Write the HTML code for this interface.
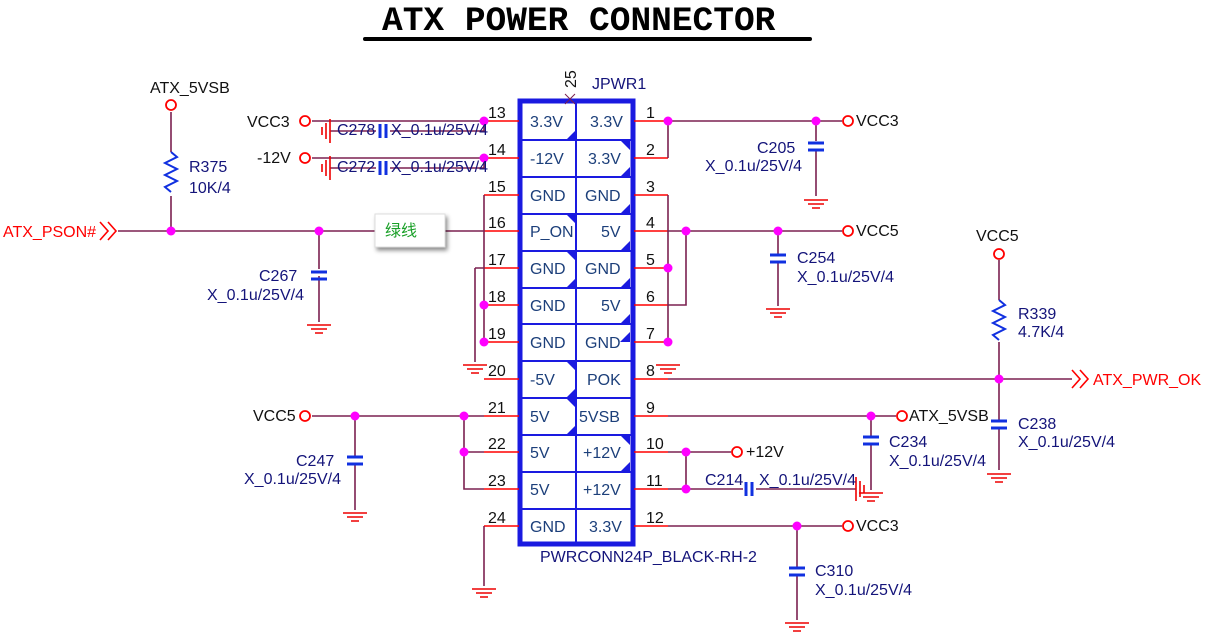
<!DOCTYPE html>
<html><head><meta charset="utf-8"><style>
html,body{margin:0;padding:0;background:#fff;}
svg{display:block;font-family:"Liberation Sans","Noto Sans CJK SC",sans-serif;}
.w{stroke:#7b2150;stroke-width:1.6;fill:none}
.r{stroke:#f00;stroke-width:1.6;fill:none}
.g{stroke:#e00;stroke-width:1.6;fill:none}
.d{fill:#f0f}
.o{fill:#fff;stroke:#f00;stroke-width:1.8}
.c{stroke:#1030e0;stroke-width:3;fill:none}
.n{fill:#14147a;font-size:16px}
.k{fill:#111;font-size:16px}
.p{fill:#111;font-size:16px}
.b{fill:#1c3f7a;font-size:16px}
.rd{fill:#f00;font-size:16px}
</style></head><body>
<svg width="1213" height="634" viewBox="0 0 1213 634" xmlns="http://www.w3.org/2000/svg">
<text x="382" y="30" font-family="Liberation Mono,monospace" font-weight="bold" font-size="34.5" fill="#000">ATX POWER CONNECTOR</text>
<line x1="365" y1="39" x2="810" y2="39" stroke="#000" stroke-width="4" stroke-linecap="round"/>

<!-- connector -->
<rect x="520" y="101" width="113" height="443" fill="#fff" stroke="#1a1ae0" stroke-width="5"/>
<g stroke="#1a1ae0" stroke-width="2">
<line x1="576" y1="101" x2="576" y2="544"/>
<line x1="520" y1="140" x2="633" y2="140"/><line x1="520" y1="177" x2="633" y2="177"/>
<line x1="520" y1="214" x2="633" y2="214"/><line x1="520" y1="251" x2="633" y2="251"/>
<line x1="520" y1="288" x2="633" y2="288"/><line x1="520" y1="324" x2="633" y2="324"/>
<line x1="520" y1="361" x2="633" y2="361"/><line x1="520" y1="398" x2="633" y2="398"/>
<line x1="520" y1="435" x2="633" y2="435"/><line x1="520" y1="472" x2="633" y2="472"/>
<line x1="520" y1="509" x2="633" y2="509"/>
</g>
<g fill="#1a1ae0">
<polygon points="566,140 576,130 576,140"/><polygon points="566,214 576,214 576,224"/>
<polygon points="566,251 576,251 576,261"/><polygon points="566,288 576,278 576,288"/>
<polygon points="566,361 576,361 576,371"/><polygon points="566,398 576,388 576,398"/>
<polygon points="566,398 576,398 576,408"/><polygon points="566,435 576,425 576,435"/>
<polygon points="620,140 630,140 630,150"/><polygon points="620,177 630,167 630,177"/>
<polygon points="620,214 630,204 630,214"/><polygon points="620,251 630,241 630,251"/>
<polygon points="620,288 630,278 630,288"/><polygon points="620,324 630,314 630,324"/>
<polygon points="620,342 630,332 630,342"/><polygon points="620,435 630,435 630,445"/>
<polygon points="620,472 630,462 630,472"/>
</g>
<g class="b">
<text x="530" y="127">3.3V</text><text x="590" y="127">3.3V</text>
<text x="530" y="164">-12V</text><text x="588" y="164">3.3V</text>
<text x="530" y="201">GND</text><text x="585" y="201">GND</text>
<text x="530" y="237">P_ON</text><text x="601" y="237">5V</text>
<text x="530" y="274">GND</text><text x="585" y="274">GND</text>
<text x="530" y="311">GND</text><text x="601" y="311">5V</text>
<text x="530" y="348">GND</text><text x="585" y="348">GND</text>
<text x="530" y="385">-5V</text><text x="587" y="385">POK</text>
<text x="530" y="422">5V</text><text x="579" y="422">5VSB</text>
<text x="530" y="458">5V</text><text x="583" y="458">+12V</text>
<text x="530" y="495">5V</text><text x="583" y="495">+12V</text>
<text x="530" y="532">GND</text><text x="589" y="532">3.3V</text>
</g>
<text x="592" y="89" class="n">JPWR1</text>
<text class="p" transform="translate(576,88) rotate(-90)" font-size="14">25</text>
<path d="M565 94 l10 10 M575 94 l-10 10" stroke="#7b2150" stroke-width="1"/>
<text x="540" y="562" class="n">PWRCONN24P_BLACK-RH-2</text>

<!-- pin stubs -->
<g class="r">
<line x1="484" y1="121" x2="519" y2="121"/><line x1="484" y1="158" x2="519" y2="158"/>
<line x1="484" y1="195" x2="519" y2="195"/><line x1="484" y1="231" x2="519" y2="231"/>
<line x1="484" y1="268" x2="519" y2="268"/><line x1="484" y1="305" x2="519" y2="305"/>
<line x1="484" y1="342" x2="519" y2="342"/><line x1="484" y1="379" x2="519" y2="379"/>
<line x1="484" y1="416" x2="519" y2="416"/><line x1="484" y1="452" x2="519" y2="452"/>
<line x1="484" y1="489" x2="519" y2="489"/><line x1="484" y1="526" x2="519" y2="526"/>
<line x1="634" y1="121" x2="668" y2="121"/><line x1="634" y1="158" x2="668" y2="158"/>
<line x1="634" y1="195" x2="668" y2="195"/><line x1="634" y1="231" x2="668" y2="231"/>
<line x1="634" y1="268" x2="668" y2="268"/><line x1="634" y1="305" x2="668" y2="305"/>
<line x1="634" y1="342" x2="668" y2="342"/><line x1="634" y1="379" x2="668" y2="379"/>
<line x1="634" y1="416" x2="668" y2="416"/><line x1="634" y1="452" x2="668" y2="452"/>
<line x1="634" y1="489" x2="668" y2="489"/><line x1="634" y1="526" x2="668" y2="526"/>
</g>
<g class="p">
<text x="488" y="118">13</text><text x="488" y="155">14</text><text x="488" y="192">15</text>
<text x="488" y="228">16</text><text x="488" y="265">17</text><text x="488" y="302">18</text>
<text x="488" y="339">19</text><text x="488" y="376">20</text><text x="488" y="413">21</text>
<text x="488" y="449">22</text><text x="488" y="486">23</text><text x="488" y="523">24</text>
<text x="646" y="118">1</text><text x="646" y="155">2</text><text x="646" y="192">3</text>
<text x="646" y="228">4</text><text x="646" y="265">5</text><text x="646" y="302">6</text>
<text x="646" y="339">7</text><text x="646" y="376">8</text><text x="646" y="413">9</text>
<text x="646" y="449">10</text><text x="646" y="486">11</text><text x="646" y="523">12</text>
</g>

<!-- left wires -->
<g class="w">
<path d="M312 121 H484"/><path d="M312 158 H484"/>
<path d="M484 121 V131 H390 M376 131 H330"/><path d="M484 158 V168 H390 M376 168 H330"/>
<path d="M484 195 V342"/><path d="M475 268 H484 M475 268 V362"/>
<path d="M118 231 H375 M445 231 H484"/>
<path d="M171 112 V152 M171 196 V231"/>
<path d="M319 231 V269 M319 276 V322"/>
<path d="M312 416 H484"/><path d="M464 416 V489 H484 M464 452 H484"/>
<path d="M355 416 V457 M355 464 V510"/>
<path d="M484 526 H484 V586"/>
</g>
<g class="c"><path d="M380 124 V138 M386 124 V138"/><path d="M380 161 V175 M386 161 V175"/>
<path d="M311 272 H327 M311 279 H327"/><path d="M347 457 H363 M347 464 H363"/></g>
<g class="g">
<path d="M330 119 V143 M326 123 V139 M322 127 V135"/>
<path d="M330 156 V180 M326 160 V176 M322 164 V172"/>
<path d="M307 325 H331 M311 329 H327 M315 333 H323"/>
<path d="M463 365 H487 M467 369 H483 M471 373 H479"/>
<path d="M343 513 H367 M347 517 H363 M351 521 H359"/>
<path d="M472 589 H496 M476 593 H492 M480 597 H488"/>
</g>
<path d="M171 152 l6 5 -12 6 12 6 -12 6 12 6 -12 6 6 5" stroke="#1030e0" stroke-width="2" fill="none"/>
<circle cx="171" cy="105" r="5" class="o"/>
<circle cx="305" cy="121" r="5" class="o"/><circle cx="305" cy="158" r="5" class="o"/>
<circle cx="305" cy="416" r="5" class="o"/>
<path d="M100 222 l8 9 -8 9 M108 222 l8 9 -8 9" stroke="#f00" stroke-width="1.6" fill="none"/>
<rect x="375" y="214" width="70" height="33" fill="#fff" stroke="#ddd" style="filter:drop-shadow(2px 3px 2px rgba(0,0,0,.45))"/>
<text x="385" y="236" fill="#1aa028" font-size="16" font-family="Noto Sans CJK SC,sans-serif">绿线</text>
<g class="d">
<circle cx="484" cy="121" r="4.5"/><circle cx="484" cy="158" r="4.5"/>
<circle cx="484" cy="305" r="4.5"/><circle cx="484" cy="342" r="4.5"/>
<circle cx="171" cy="231" r="4.5"/><circle cx="319" cy="231" r="4.5"/>
<circle cx="355" cy="416" r="4.5"/><circle cx="464" cy="416" r="4.5"/><circle cx="464" cy="452" r="4.5"/>
</g>
<text x="150" y="93" class="k">ATX_5VSB</text>
<text x="247" y="127" class="k">VCC3</text><text x="257" y="163" class="k">-12V</text>
<text x="253" y="421" class="k">VCC5</text>
<text x="3" y="237" class="rd">ATX_PSON#</text>
<g class="n">
<text x="337" y="135">C278</text><text x="391" y="135">X_0.1u/25V/4</text>
<text x="337" y="172">C272</text><text x="391" y="172">X_0.1u/25V/4</text>
<text x="189" y="172">R375</text><text x="189" y="193">10K/4</text>
<text x="259" y="281">C267</text><text x="207" y="300">X_0.1u/25V/4</text>
<text x="296" y="466">C247</text><text x="244" y="484">X_0.1u/25V/4</text>
</g>

<!-- right wires -->
<g class="w">
<path d="M668 121 H842 M668 158 H668 V121"/>
<path d="M816 121 V141 M816 150 V196"/>
<path d="M668 195 V342"/>
<path d="M668 231 H842 M686 231 V305 H668"/>
<path d="M778 231 V254 M778 262 V306"/>
<path d="M668 379 H1072"/>
<path d="M999 260 V300 M999 342 V420 M999 428 V470"/>
<path d="M668 416 H896"/><path d="M871 416 V436 M871 444 V490"/>
<path d="M668 452 H731 M686 452 V489"/>
<path d="M668 489 H743 M756 489 H856"/>
<path d="M668 526 H842"/><path d="M797 526 V568 M797 576 V620"/>
</g>
<g class="c"><path d="M808 143 H824 M808 150 H824"/><path d="M770 255 H786 M770 262 H786"/>
<path d="M991 421 H1007 M991 428 H1007"/><path d="M863 437 H879 M863 444 H879"/>
<path d="M746 482 V496 M752 482 V496"/><path d="M789 568 H805 M789 575 H805"/></g>
<g class="g">
<path d="M804 200 H828 M808 204 H824 M812 208 H820"/>
<path d="M766 309 H790 M770 313 H786 M774 317 H782"/>
<path d="M656 365 H680 M660 369 H676 M664 373 H672"/>
<path d="M987 474 H1011 M991 478 H1007 M995 482 H1003"/>
<path d="M859 493 H883 M863 497 H879 M867 501 H875 M856 477 V501 M860 481 V497 M864 485 V493"/>
<path d="M785 623 H809 M789 627 H805 M793 631 H801"/>
</g>
<path d="M999 300 l6 5 -12 6 12 6 -12 6 12 6 -12 6 6 5" stroke="#1030e0" stroke-width="2" fill="none"/>
<path d="M1072 370 l8 9 -8 9 M1080 370 l8 9 -8 9" stroke="#f00" stroke-width="1.6" fill="none"/>
<circle cx="848" cy="121" r="5" class="o"/><circle cx="848" cy="231" r="5" class="o"/>
<circle cx="999" cy="254" r="5" class="o"/><circle cx="902" cy="416" r="5" class="o"/>
<circle cx="737" cy="452" r="5" class="o"/><circle cx="848" cy="526" r="5" class="o"/>
<g class="d">
<circle cx="668" cy="121" r="4.5"/><circle cx="816" cy="121" r="4.5"/>
<circle cx="668" cy="268" r="4.5"/><circle cx="668" cy="342" r="4.5"/>
<circle cx="686" cy="231" r="4.5"/><circle cx="778" cy="231" r="4.5"/>
<circle cx="999" cy="379" r="4.5"/><circle cx="871" cy="416" r="4.5"/>
<circle cx="686" cy="452" r="4.5"/><circle cx="686" cy="489" r="4.5"/>
<circle cx="797" cy="526" r="4.5"/>
</g>
<g class="k">
<text x="856" y="126">VCC3</text><text x="856" y="236">VCC5</text>
<text x="976" y="241">VCC5</text><text x="909" y="421">ATX_5VSB</text>
<text x="746" y="457">+12V</text><text x="856" y="531">VCC3</text>
</g>
<text x="1093" y="385" class="rd">ATX_PWR_OK</text>
<g class="n">
<text x="757" y="153">C205</text><text x="705" y="171">X_0.1u/25V/4</text>
<text x="797" y="263">C254</text><text x="797" y="282">X_0.1u/25V/4</text>
<text x="1018" y="319">R339</text><text x="1018" y="337">4.7K/4</text>
<text x="1018" y="429">C238</text><text x="1018" y="447">X_0.1u/25V/4</text>
<text x="889" y="447">C234</text><text x="889" y="466">X_0.1u/25V/4</text>
<text x="705" y="485">C214</text><text x="759" y="485">X_0.1u/25V/4</text>
<text x="815" y="576">C310</text><text x="815" y="595">X_0.1u/25V/4</text>
</g>
</svg>
</body></html>
